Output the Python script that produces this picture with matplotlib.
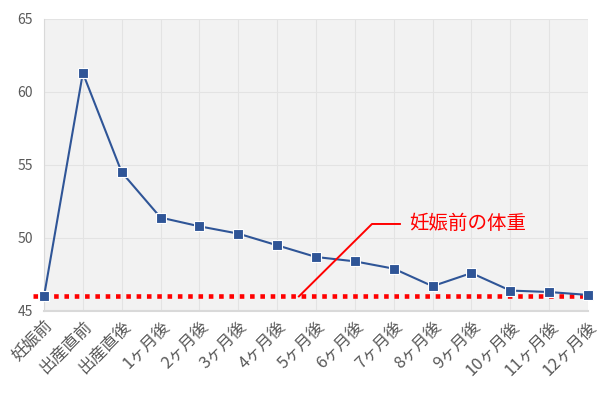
import matplotlib
matplotlib.use("Agg")
import matplotlib.pyplot as plt

plt.rcParams['font.family'] = ['Noto Sans CJK JP', 'DejaVu Sans']

# data
labels = ["妊娠前", "出産直前", "出産直後", "1ヶ月後", "2ヶ月後", "3ヶ月後", "4ヶ月後",
          "5ヶ月後", "6ヶ月後", "7ヶ月後", "8ヶ月後", "9ヶ月後", "10ヶ月後", "11ヶ月後", "12ヶ月後"]
weights = [46.0, 61.3, 54.5, 51.4, 50.8, 50.3, 49.5, 48.7, 48.4, 47.9, 46.7, 47.6, 46.4, 46.3, 46.1]
pre_weight = 46.0
note_text = "妊娠前の体重"
y_ticks = [45, 50, 55, 60, 65]

fig = plt.figure(figsize=(6, 4.01), dpi=100)
ax = fig.add_axes([44 / 600, 1 - 311 / 401, 544 / 600, 292 / 401])
ax.set_facecolor("#F2F2F2")

x = list(range(len(labels)))

# reference line (dotted red)
ax.plot([-0.28, len(labels) - 1 + 0.05], [pre_weight, pre_weight], color="#FF0000",
        linewidth=3.3, linestyle=(0, (1, 1.25)), dash_capstyle="butt", clip_on=False, zorder=4)

ax.plot(x, weights, color="#2F5597", linewidth=1.5, marker="s", markersize=7,
        markerfacecolor="#2F5597", markeredgecolor="white", markeredgewidth=0.8,
        clip_on=False, zorder=5)

# annotation
ax.plot([6.56, 8.44, 9.16], [pre_weight, 50.96, 50.96], color="#FF0000", linewidth=1.4, zorder=6)
ax.text(9.39, 50.96, note_text, color="#FF0000", fontsize=14, va="center", ha="left")

ax.set_xlim(0, len(labels) - 1)
ax.set_ylim(45, 65)
ax.set_yticks(y_ticks)
ax.set_xticks(x)
ax.set_xticklabels(labels, rotation=45, ha="right", rotation_mode="anchor", fontsize=12, color="#595959")
ax.tick_params(axis="y", labelsize=10, colors="#595959", length=0, pad=8)
ax.tick_params(axis="x", length=0, pad=5)

ax.grid(True, color="#E3E3E3", linewidth=0.8)
ax.set_axisbelow(True)
for s in ["top", "right"]:
    ax.spines[s].set_visible(False)
ax.spines["left"].set_color("#D9D9D9")
ax.spines["bottom"].set_color("#D9D9D9")
ax.spines["bottom"].set_linewidth(1.5)

fig.savefig("out.png", dpi=100)
